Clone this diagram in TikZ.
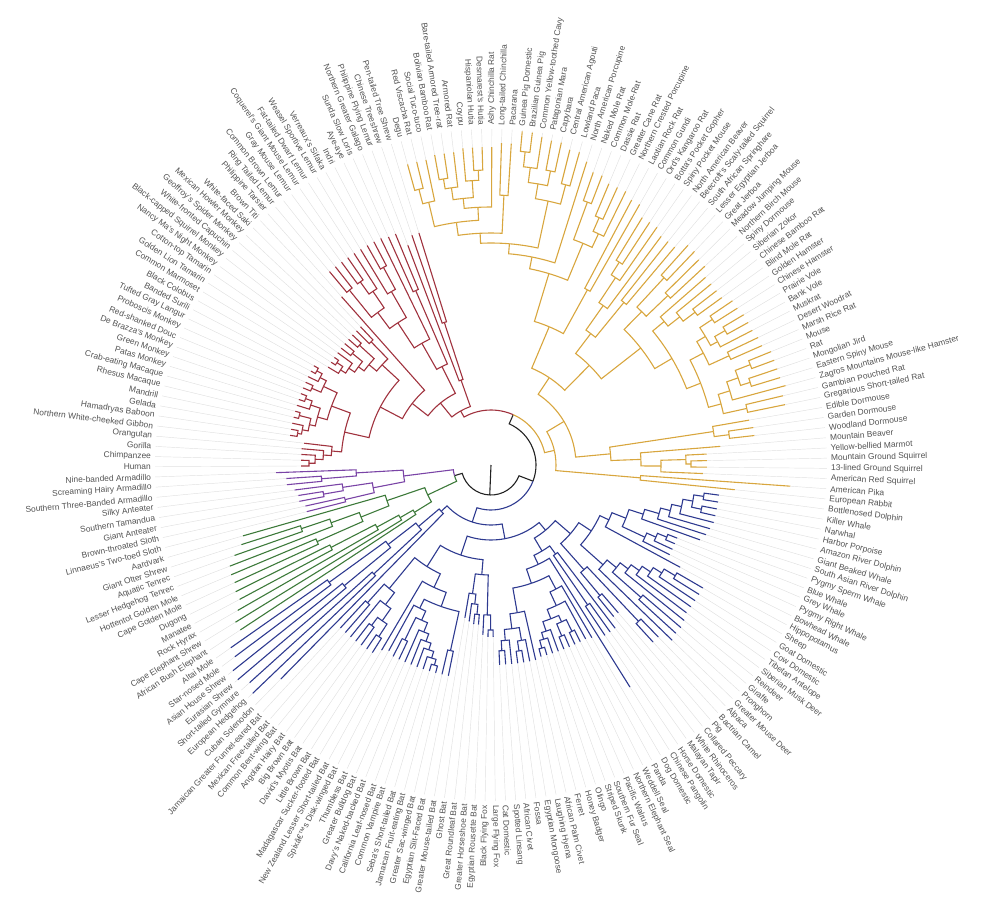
\documentclass[tikz,border=0pt]{standalone}
\usepackage{fontspec}
\setmainfont{Liberation Sans}
\definecolor{cR}{HTML}{A0323E}
\definecolor{cY}{HTML}{D8A63E}
\definecolor{cB}{HTML}{2E3A90}
\definecolor{cG}{HTML}{3D7A3A}
\definecolor{cP}{HTML}{7A44A6}
\definecolor{cK}{HTML}{222222}

% angle of a leaf position on the fan (207 leaves, 360/207 deg apart)
\newcommand\fan[1]{180.3-(#1-1)*1.739130}
% parent pos/radius -> child pos/radius
\newcommand\edges[2]{%
  \foreach \pa/\ra/\qa/\sa in {#2}{%
    \pgfmathsetmacro\angA{\fan{\pa}}%
    \pgfmathsetmacro\angB{\fan{\qa}}%
    \draw[branch,#1] (\angA:\ra) arc[start angle=\angA,end angle=\angB,radius=\ra pt] -- (\angB:\sa);
  }}
% same, for the tips, plus the grey guide out to the label
\newcommand\tips[2]{%
  \foreach \pa/\ra/\qa/\sa in {#2}{%
    \pgfmathsetmacro\angA{\fan{\pa}}%
    \pgfmathsetmacro\angB{\fan{\qa}}%
    \draw[guide] (\angB:\sa) -- (\angB:336);
    \draw[branch,#1] (\angA:\ra) arc[start angle=\angA,end angle=\angB,radius=\ra pt] -- (\angB:\sa);
  }}

\begin{document}
\begin{tikzpicture}[x=1pt,y=1pt,
  branch/.style={line width=1.1pt},
  guide/.style={draw=black!12, line width=0.45pt},
  lab/.style={inner sep=0pt, text=black!68, font=\fontsize{8.4}{10}\selectfont}
]
\useasboundingbox (-491,-449) rectangle (509,465);

% root
\draw[branch,cK] (0,0) -- (-92.4:30);
\edges{cK}{157.8/30/116.76/45, 157.8/30/198.845/38, 116.76/45/66.63/55}

% Euarchonta
\edges{cR}{66.63/55/36.06/62, 36.06/62/30.37/80, 36.06/62/41.75/90, 41.75/90/42.5/150,
  30.37/80/23.03/100, 30.37/80/37.70/110, 23.03/100/17.06/125, 17.06/125/8.45/150,
  17.06/125/25.67/148, 8.45/150/4.06/160, 8.45/150/12.84/170, 4.06/160/3.125/168,
  3.125/168/2.25/176, 2.25/176/1.5/182, 12.84/170/10.06/180, 12.84/170/15.625/185,
  10.06/180/8.375/186, 10.06/180/11.75/190, 8.375/186/7.25/192, 8.375/186/9.5/198,
  7.25/192/6.5/196, 11.75/190/12.5/197, 15.625/185/14.5/195, 15.625/185/16.75/192,
  16.75/192/17.5/198, 25.67/148/23.84/158, 25.67/148/27.5/172, 23.84/158/22.19/165,
  23.84/158/25.5/178, 22.19/165/20.875/172, 22.19/165/23.5/178, 20.875/172/19.75/178,
  19.75/178/20.5/185, 37.70/110/35.906/140, 37.70/110/39.5/190, 35.906/140/33.81/170,
  33.81/170/31.875/190, 33.81/170/35.75/200, 31.875/190/30.5/225, 31.875/190/33.25/210,
  33.25/210/32.5/225, 35.75/200/36.5/225}
\tips{cR}{1.5/182/1/190, 1.5/182/2/190, 2.25/176/3/190, 3.125/168/4/190, 4.06/160/5/188,
  6.5/196/6/203, 6.5/196/7/203, 7.25/192/8/203, 9.5/198/9/203, 9.5/198/10/203,
  11.75/190/11/203, 12.5/197/12/203, 12.5/197/13/203, 14.5/195/14/203, 14.5/195/15/203,
  16.75/192/16/203, 17.5/198/17/203, 17.5/198/18/203, 19.75/178/19/190, 20.5/185/20/190,
  20.5/185/21/190, 20.875/172/22/190, 23.5/178/23/190, 23.5/178/24/190, 25.5/178/25/190,
  25.5/178/26/190, 27.5/172/27/190, 27.5/172/28/190, 23.03/100/29/225, 30.5/225/30/252,
  30.5/225/31/252, 32.5/225/32/252, 32.5/225/33/252, 33.25/210/34/252, 35.75/200/35/252,
  36.5/225/36/252, 36.5/225/37/252, 35.906/140/38/252, 39.5/190/39/250, 39.5/190/40/250,
  41.75/90/41/235, 42.5/150/42/243, 42.5/150/43/243}

% Glires
\edges{cY}{66.63/55/97.2/65, 97.2/65/86.95/85, 97.2/65/107.5/150, 86.95/85/72.31/105,
  86.95/85/101.6/120, 72.31/105/66.05/150, 72.31/105/78.57/140, 66.05/150/62.6/200,
  66.05/150/69.5/200, 62.6/200/59.33/212, 62.6/200/65.875/240, 59.33/212/55.66/222,
  55.66/222/51.375/232, 55.66/222/59.94/270, 51.375/232/48.25/245, 51.375/232/54.5/270,
  48.25/245/45.25/270, 48.25/245/51.25/258, 45.25/270/44.5/285, 51.25/258/49.5/268,
  49.5/268/48.25/280, 49.5/268/50.75/285, 48.25/280/47.5/290, 50.75/285/51.5/295,
  59.94/270/58.375/285, 59.94/270/61.5/290, 58.375/285/57.25/300, 58.375/285/59.5/300,
  57.25/300/56.5/315, 65.875/240/64.5/280, 65.875/240/67.25/255, 67.25/255/66.5/270,
  78.57/140/74.31/165, 78.57/140/82.82/190, 74.31/165/73.125/195, 74.31/165/75.5/210,
  73.125/195/72.25/225, 72.25/225/71.5/240, 82.82/190/78.5/215, 82.82/190/87.14/210,
  78.5/215/77.5/255, 78.5/215/79.5/245, 87.14/210/81.875/225, 87.14/210/92.41/225,
  81.875/225/82.75/240, 82.75/240/83.5/255, 92.41/225/88.69/240, 92.41/225/96.125/238,
  88.69/240/86.875/250, 88.69/240/90.5/262, 86.875/250/85.5/265, 86.875/250/88.25/258,
  88.25/258/87.5/270, 96.125/238/94.75/250, 96.125/238/97.5/262, 94.75/250/93.5/262,
  93.5/262/92.5/278, 93.5/262/94.5/272, 101.6/120/99.75/225, 101.6/120/103.44/150,
  99.75/225/100.5/240, 103.44/150/104.875/170, 104.875/170/103.75/195, 103.75/195/104.5/200}
\tips{cY}{44.5/285/44/312, 44.5/285/45/312, 45.25/270/46/312, 47.5/290/47/315,
  47.5/290/48/315, 48.25/280/49/315, 50.75/285/50/318, 51.5/295/51/318, 51.5/295/52/318,
  51.25/258/53/318, 54.5/270/54/322, 54.5/270/55/322, 56.5/315/56/335, 56.5/315/57/335,
  57.25/300/58/332, 59.5/300/59/330, 59.5/300/60/330, 61.5/290/61/325, 61.5/290/62/325,
  59.33/212/63/318, 64.5/280/64/310, 64.5/280/65/310, 66.5/270/66/305, 66.5/270/67/305,
  67.25/255/68/305, 69.5/200/69/300, 69.5/200/70/300, 71.5/240/71/290, 71.5/240/72/290,
  72.25/225/73/290, 73.125/195/74/285, 75.5/210/75/285, 75.5/210/76/285, 77.5/255/77/295,
  77.5/255/78/295, 79.5/245/79/292, 79.5/245/80/292, 81.875/225/81/285, 82.75/240/82/285,
  83.5/255/83/285, 83.5/255/84/285, 85.5/265/85/292, 85.5/265/86/292, 87.5/270/87/294,
  87.5/270/88/294, 88.25/258/89/294, 90.5/262/90/296, 90.5/262/91/296, 92.5/278/92/302,
  92.5/278/93/302, 94.5/272/94/302, 94.5/272/95/302, 94.75/250/96/305, 97.5/262/97/300,
  97.5/262/98/300, 99.75/225/99/262, 100.5/240/100/265, 100.5/240/101/265,
  103.44/150/102/230, 103.75/195/103/216, 104.5/200/104/216, 104.5/200/105/216,
  104.875/170/106/212, 107.5/150/107/300, 107.5/150/108/245}

% Laurasiatheria
\edges{cB}{116.76/45/166.89/60, 166.89/60/150.27/75, 166.89/60/183.5/68, 183.5/68/185/95,
  185/95/183.5/160, 185/95/186.5/130, 186.5/130/185.5/190, 186.5/130/187.5/200,
  150.27/75/133.47/85, 150.27/75/167.07/95, 133.47/85/128.17/105, 133.47/85/138.77/100,
  128.17/105/123.83/120, 128.17/105/132.5/140, 123.83/120/119.02/130, 123.83/120/128.64/150,
  119.02/130/117.05/145, 117.05/145/114.97/160, 117.05/145/119.125/170,
  114.97/160/113.94/175, 113.94/175/112.875/185, 112.875/185/111.75/195,
  111.75/195/110.5/205, 110.5/205/109.5/215, 110.5/205/111.5/215, 119.125/170/118.25/180,
  118.25/180/117.5/190, 128.64/150/127.27/162, 127.27/162/126.03/172, 127.27/162/128.5/200,
  126.03/172/125.06/182, 125.06/182/124.125/192, 124.125/192/123.25/202,
  123.25/202/122.5/215, 132.5/140/131.5/215, 132.5/140/133.5/170, 138.77/100/135.75/110,
  138.77/100/141.79/110, 135.75/110/136.5/170, 141.79/110/145.59/125,
  145.59/125/140.55/140, 145.59/125/150.625/150, 140.55/140/142.09/155,
  142.09/155/144.19/165, 144.19/165/142.5/172, 144.19/165/145.875/175,
  142.5/172/141.5/185, 142.5/172/143.5/185, 145.875/175/146.75/182, 146.75/182/147.5/190,
  150.625/150/152.25/165, 152.25/165/150.75/178, 152.25/165/153.75/176,
  150.75/178/151.5/188, 153.75/176/154.5/186, 167.07/95/159.19/110, 167.07/95/174.95/120,
  159.19/110/157.25/150, 159.19/110/161.125/130, 157.25/150/156.5/165,
  161.125/130/160.25/140, 160.25/140/159.5/150, 174.95/120/170.78/135,
  174.95/120/179.125/160, 170.78/135/167.57/150, 167.57/150/163.5/190,
  167.57/150/171.63/160, 171.63/160/170.27/170, 170.27/170/169.03/180,
  170.27/170/171.5/195, 169.03/180/168.06/188, 168.06/188/167.125/195,
  167.125/195/166.25/202, 166.25/202/165.5/208, 179.125/160/177.75/175,
  179.125/160/180.5/185, 177.75/175/176.5/190, 176.5/190/175.5/205, 176.5/190/177.5/200}
\tips{cB}{109.5/215/109/230, 109.5/215/110/230, 111.5/215/111/230, 111.5/215/112/230,
  111.75/195/113/230, 112.875/185/114/228, 113.94/175/115/226, 114.97/160/116/222,
  117.5/190/117/200, 117.5/190/118/200, 118.25/180/119/200, 119.125/170/120/200,
  119.02/130/121/215, 122.5/215/122/245, 122.5/215/123/245, 123.25/202/124/245,
  124.125/192/125/245, 125.06/182/126/245, 126.03/172/127/248, 128.5/200/128/250,
  128.5/200/129/250, 128.64/150/130/252, 131.5/215/131/240, 131.5/215/132/240,
  133.5/170/133/195, 133.5/170/134/195, 135.75/110/135/205, 136.5/170/136/205,
  136.5/170/137/205, 141.79/110/138/262, 140.55/140/139/200, 142.09/155/140/198,
  141.5/185/141/198, 141.5/185/142/198, 143.5/185/143/198, 143.5/185/144/198,
  145.875/175/145/198, 146.75/182/146/198, 147.5/190/147/198, 147.5/190/148/198,
  150.625/150/149/200, 150.75/178/150/200, 151.5/188/151/200, 151.5/188/152/200,
  153.75/176/153/200, 154.5/186/154/200, 154.5/186/155/200, 156.5/165/156/172,
  156.5/165/157/172, 157.25/150/158/170, 159.5/150/159/160, 159.5/150/160/160,
  160.25/140/161/158, 161.125/130/162/155, 163.5/190/163/215, 163.5/190/164/215,
  165.5/208/165/215, 165.5/208/166/215, 166.25/202/167/215, 167.125/195/168/215,
  168.06/188/169/215, 169.03/180/170/215, 171.5/195/171/215, 171.5/195/172/215,
  171.63/160/173/212, 170.78/135/174/215, 175.5/205/175/222, 175.5/205/176/222,
  177.5/200/177/222, 177.5/200/178/222, 177.75/175/179/222, 180.5/185/180/222,
  180.5/185/181/222, 183.5/68/182/300, 183.5/160/183/330, 183.5/160/184/325,
  185.5/190/185/332, 185.5/190/186/330, 187.5/200/187/320, 187.5/200/188/318}

% Afrotheria
\edges{cG}{198.845/38/193.63/70, 193.63/70/189.94/90, 193.63/70/197.31/110,
  189.94/90/190.875/105, 190.875/105/191.75/130, 191.75/130/192.5/180,
  197.31/110/195.625/140, 195.625/140/194.5/190, 195.625/140/196.75/170,
  196.75/170/197.5/200}
\tips{cG}{189.94/90/189/300, 190.875/105/190/300, 191.75/130/191/292, 192.5/180/192/285,
  192.5/180/193/285, 194.5/190/194/282, 194.5/190/195/282, 196.75/170/196/280,
  197.5/200/197/272, 197.5/200/198/262, 197.31/110/199/258}

% Xenarthra
\edges{cP}{198.845/38/204.06/88, 204.06/88/201.875/120, 204.06/88/206.25/135,
  201.875/120/200.5/150, 201.875/120/203.25/150, 203.25/150/202.5/170, 206.25/135/205.5/170}
\tips{cP}{200.5/150/200/190, 200.5/150/201/190, 202.5/170/202/195, 202.5/170/203/195,
  203.25/150/204/198, 205.5/170/205/205, 205.5/170/206/205, 206.25/135/207/215}

% labels
\foreach \nm [count=\i] in {Human, Chimpanzee, Gorilla, Orangutan,
  Northern White-cheeked Gibbon, Hamadryas Baboon, Gelada, Mandrill, Rhesus Macaque,
  Crab-eating Macaque, Patas Monkey, Green Monkey, De Brazza's Monkey, Red-shanked Douc,
  Proboscis Monkey, Tufted Gray Langur, Banded Surili, Black Colobus, Common Marmoset,
  Golden Lion Tamarin, Cotton-top Tamarin, Nancy Ma's Night Monkey,
  Black-capped Squirrel Monkey, White-fronted Capuchin, Geoffroy's Spider Monkey,
  Mexican Howler Monkey, White-faced Saki, Brown Titi, Philippine Tarsier,
  Ring Tailed Lemur, Common Brown Lemur, Gray Mouse Lemur, Coquerel's Giant Mouse Lemur,
  Fat-tailed Dwarf Lemur, Weasel Sportive Lemur, Verreaux's Sifaka, Indri, Aye-aye,
  Sunda Slow Loris, Northern Greater Galago, Philippine Flying Lemur, Chinese Treeshrew,
  Pen-tailed Tree Shrew, Degu, Red Viscacha Rat, Social Tuco-tuco, Bolivian Bamboo Rat,
  Bare-tailed Armored Tree-rat, Armored Rat, Coypu, Hispaniolan Hutia, Desmarest's Hutia,
  Ashy Chinchilla Rat, Long-tailed Chinchilla, Pacarana, Guinea Pig Domestic,
  Brazilian Guinea Pig, Common Yellow-toothed Cavy, Patagonian Mara, Capybara,
  Central American Agouti, Lowland Paca, North American Porcupine, Naked Mole Rat,
  Common Mole-Rat, Dassie Rat, Greater Cane Rat, Northern Crested Porcupine,
  Laotian Rock Rat, Common Gundi, Ord's Kangaroo Rat, Botta's Pocket Gopher,
  Spiny Pocket Mouse, North American Beaver, Beecroft's Scaly-tailed Squirrel,
  South African Springhare, Lesser Egyptian Jerboa, Great Jerboa, Meadow Jumping Mouse,
  Northern Birch Mouse, Spiny Dormouse, Siberian Zokor, Chinese Bamboo Rat, Blind Mole Rat,
  Golden Hamster, Chinese Hamster, Prairie Vole, Bank Vole, Muskrat, Desert Woodrat,
  Marsh Rice Rat, Mouse, Rat, Mongolian Jird, Eastern Spiny Mouse,
  Zagros Mountains Mouse-like Hamster, Gambian Pouched Rat, Gregarious Short-tailed Rat,
  Edible Dormouse, Garden Dormouse, Woodland Dormouse, Mountain Beaver,
  Yellow-bellied Marmot, Mountain Ground Squirrel, 13-lined Ground Squirrel,
  American Red Squirrel, American Pika, European Rabbit, Bottlenosed Dolphin, Killer Whale,
  Narwhal, Harbor Porpoise, Amazon River Dolphin, Giant Beaked Whale,
  South Asian River Dolphin, Pygmy Sperm Whale, Blue Whale, Grey Whale, Pygmy Right Whale,
  Bowhead Whale, Hippopotamus, Sheep, Goat Domestic, Cow Domestic, Tibetan Antelope,
  Siberian Musk Deer, Reindeer, Giraffe, Pronghorn, Greater Mouse Deer, Alpaca,
  Bactrian Camel, Pig, Collared Peccary, White Rhinoceros, Malayan Tapir, Horse Domestic,
  Chinese Pangolin, Dog Domestic, Panda, Weddell Seal, Northern Elephant Seal,
  Pacific Walrus, Southern Fur Seal, Striped Skunk, Olingo, Honey Badger, Ferret,
  African Palm Civet, Laughing Hyena, Egyptian Mongoose, Fossa, African Civet,
  Spotted Linsang, Cat Domestic, Large Flying Fox, Black Flying Fox, Egyptian Rousette Bat,
  Greater Horseshoe Bat, Great Roundleaf Bat, Ghost Bat, Greater Mouse-tailed Bat,
  Egyptian Slit-Faced Bat, Greater Sac-winged Bat, Jamaican Fruit-eating Bat,
  Seba's Short-tailed Bat, Common Vampire Bat, California Leaf-nosed Bat,
  Davy's Naked-backed Bat, Greater Bulldog Bat, Thumbless Bat, Spixâ€™s Disk-winged Bat,
  New Zealand Lesser Short-tailed Bat, Madagascar Sucker-footed Bat, Little Brown Bat,
  David's Myotis Bat, Big Brown Bat, Angolan Hairy Bat, Common Bent-wing Bat,
  Mexican Free-tailed Bat, Jamaican Greater Funnel-eared Bat, Cuban Solenodon,
  European Hedgehog, Short-tailed Gymnure, Eurasian Shrew, Asian House Shrew,
  Star-nosed Mole, Altai Mole, African Bush Elephant, Cape Elephant Shrew, Rock Hyrax,
  Manatee, Dugong, Cape Golden Mole, Hottentot Golden Mole, Lesser Hedgehog Tenrec,
  Aquatic Tenrec, Giant Otter Shrew, Aardvark, Linnaeus's Two-toed Sloth,
  Brown-throated Sloth, Giant Anteater, Southern Tamandua, Silky Anteater,
  Southern Three-Banded Armadillo, Screaming Hairy Armadillo, Nine-banded Armadillo}{
  \pgfmathsetmacro\angL{\fan{\i}}
  \pgfmathtruncatemacro\rgt{cos(\angL)>0}
  \ifnum\rgt=1
    \node[lab,anchor=west,rotate=\angL] (leaf\i) at (\angL:340) {\nm};
  \else
    \pgfmathsetmacro\angF{\angL+180}
    \node[lab,anchor=east,rotate=\angF] (leaf\i) at (\angL:340) {\nm};
  \fi
}
\end{tikzpicture}
\end{document}
